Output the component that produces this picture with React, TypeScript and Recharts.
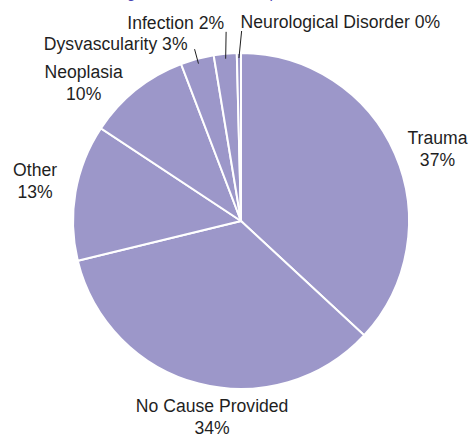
import React from "react";
import { PieChart, Pie, Cell } from "recharts";

// causes, listed clockwise from 12 o'clock
const causes = [
  "Trauma",
  "No Cause Provided",
  "Other",
  "Neoplasia",
  "Dysvascularity",
  "Infection",
  "Neurological Disorder",
];
const shares = [36.9, 34.3, 13.1, 9.9, 3.2, 2.2, 0.4];

const data = causes.map((name, i) => ({ name, value: shares[i] }));

const SLICE = "#9c97c9";
const INK = "#1f1f1f";
const FONT = "Liberation Sans, Arial, sans-serif";
const FS = 17.6;
const RAD = Math.PI / 180;

// label placement: big slices get a two-line label off the rim,
// thin ones get a single line on a short leader
type Place =
  | { kind: "block"; dx: number; dy: number }
  | { kind: "callout"; ext: number; lx: number; tx: number; ty: number; anchor: "start" | "end" };

const placement: Record<string, Place> = {
  Trauma: { kind: "block", dx: 4, dy: 12 },
  "No Cause Provided": { kind: "block", dx: 24, dy: -7 },
  Other: { kind: "block", dx: 1, dy: -4 },
  Neoplasia: { kind: "block", dx: -26, dy: 26 },
  Dysvascularity: { kind: "callout", ext: 10, lx: 0, tx: -7, ty: -5, anchor: "end" },
  Infection: { kind: "callout", ext: 22, lx: 3, tx: -2, ty: -9, anchor: "end" },
  "Neurological Disorder": { kind: "callout", ext: 22, lx: 3, tx: -1, ty: -9, anchor: "start" },
};

function renderLabel(props: any) {
  const { cx, cy, midAngle, outerRadius, percent, name } = props;
  const pct = `${Math.round(percent * 100)}%`;
  const cos = Math.cos(-midAngle * RAD);
  const sin = Math.sin(-midAngle * RAD);
  const at = (r: number) => ({ x: cx + r * cos, y: cy + r * sin });
  const p = placement[name];

  if (!p || p.kind === "block") {
    const base = at(outerRadius + 42);
    const x = base.x + (p ? p.dx : 0);
    const y = base.y + (p ? p.dy : 0);
    return (
      <text x={x} y={y} textAnchor="middle" fill={INK} fontSize={FS} fontFamily={FONT}>
        <tspan x={x} y={y - 11} dominantBaseline="central">
          {name}
        </tspan>
        <tspan x={x} y={y + 11} dominantBaseline="central">
          {pct}
        </tspan>
      </text>
    );
  }

  const inner = at(outerRadius - 5);
  const outer = at(outerRadius + p.ext);
  const ox = outer.x + p.lx;
  return (
    <g>
      <line x1={inner.x} y1={inner.y} x2={ox} y2={outer.y} stroke={INK} strokeWidth={1} />
      <text
        x={ox + p.tx}
        y={outer.y + p.ty}
        textAnchor={p.anchor}
        dominantBaseline="central"
        fill={INK}
        fontSize={FS}
        fontFamily={FONT}
      >
        {`${name} ${pct}`}
      </text>
    </g>
  );
}

export default function App() {
  return (
    <div style={{ position: "absolute", left: 0, top: 0, width: 470, height: 437, background: "#fff" }}>
      <PieChart width={470} height={437} margin={{ top: 0, right: 0, bottom: 0, left: 0 }}>
        <text x={82} y={-2} fill="#4a46b3" fontSize={15} fontFamily={FONT}>
          Leading Causes of Limb Amputation
        </text>
        <Pie
          data={data}
          dataKey="value"
          nameKey="name"
          cx={241}
          cy={221}
          outerRadius={168}
          startAngle={90}
          endAngle={-270}
          stroke="#ffffff"
          strokeWidth={2}
          label={renderLabel}
          labelLine={false}
          isAnimationActive={false}
        >
          {data.map((d) => (
            <Cell key={d.name} fill={SLICE} />
          ))}
        </Pie>
      </PieChart>
    </div>
  );
}
